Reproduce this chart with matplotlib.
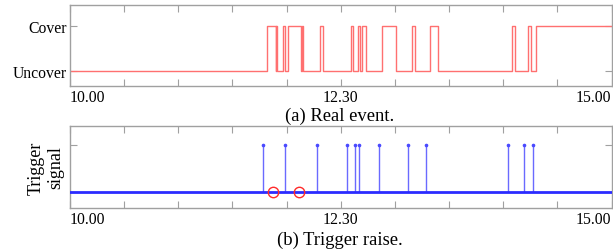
import matplotlib
matplotlib.use("Agg")
import matplotlib.pyplot as plt
import numpy as np

# ---- data (hours, 12.30 = 12h30) ----
event_times = [10.0, 11.817, 11.900, 11.905, 11.910, 11.965, 11.983, 12.011, 12.131,
               12.140, 12.154, 12.306, 12.337, 12.594, 12.613, 12.663, 12.680,
               12.694, 12.731, 12.883, 13.012, 13.155, 13.183, 13.321, 13.398,
               14.080, 14.112, 14.228, 14.257, 14.299, 15.0]
event_states = [0, 1, 0, 1, 0, 1, 0, 1, 0,
                1, 0, 1, 0, 1, 0, 1, 0,
                1, 0, 1, 0, 1, 0, 1, 0,
                1, 0, 1, 0, 1, 1]

trigger_times = [11.783, 11.983, 12.279, 12.560, 12.632, 12.671, 12.853,
                 13.121, 13.289, 14.045, 14.196, 14.273]
missed_times = [11.870, 12.110]

xtick_major = [10.0, 12.5, 15.0]
xtick_labels = ["10.00", "12.30", "15.00"]
xtick_minor = [10.5, 11.0, 11.5, 12.0, 13.0, 13.5, 14.0, 14.5]
state_labels = ["Uncover", "Cover"]

plt.rcParams['font.family'] = ['Liberation Serif', 'DejaVu Serif']

fig = plt.figure(figsize=(6.13, 2.53), dpi=100)
ax1 = fig.add_axes([0.1142, 0.6561, 0.8834, 0.3202])
ax2 = fig.add_axes([0.1142, 0.1739, 0.8834, 0.3241])

spine_col = '#a0a0a0'

def style(ax):
    for s in ax.spines.values():
        s.set_color(spine_col)
        s.set_linewidth(1.0)
    ax.set_xlim(10, 15)
    ax.set_xticks(xtick_major + xtick_minor)
    labels = xtick_labels + [""] * len(xtick_minor)
    ax.set_xticklabels(labels)
    ax.tick_params(axis='both', direction='in', length=5, width=0.8,
                   color=spine_col, top=True, right=True, labelsize=11.3,
                   pad=2)
    tl = ax.get_xticklabels()
    tl[0].set_horizontalalignment('left')
    tl[2].set_horizontalalignment('right')

# top: real event
ax1.step(event_times, event_states, where='post', color='#ff7070', lw=1.0)
ax1.set_ylim(-0.333, 1.467)
ax1.set_yticks([0, 1])
ax1.set_yticklabels(state_labels)
style(ax1)
ax1.tick_params(axis='y', pad=2)
fig.text(0.5546, 1 - 116 / 253, "(a) Real event.", ha='center', va='center',
         fontsize=13.4)

# bottom: trigger raise
ax2.axhline(0, color='#2b2bff', lw=2.0, zorder=3)
ax2.vlines(trigger_times, 0, 1, color='#6a6aff', lw=1.0)
ax2.plot(trigger_times, np.ones(len(trigger_times)), linestyle='none',
         marker='o', ms=1.6, color='#4a4aff')
ax2.plot(missed_times, np.zeros(len(missed_times)), linestyle='none',
         marker='o', ms=7.5, mfc='none', mec='#ff2a2a', mew=1.0, zorder=4)
ax2.set_ylim(-0.35, 1.41)
ax2.set_yticks([0, 1])
ax2.set_yticklabels(["", ""])
style(ax2)
ax2.set_ylabel("Trigger\nsignal", fontsize=13, linespacing=1.2, labelpad=2)
fig.text(0.5546, 1 - 240 / 253, "(b) Trigger raise.", ha='center', va='center',
         fontsize=13.4)

fig.savefig("out.png", dpi=100)
